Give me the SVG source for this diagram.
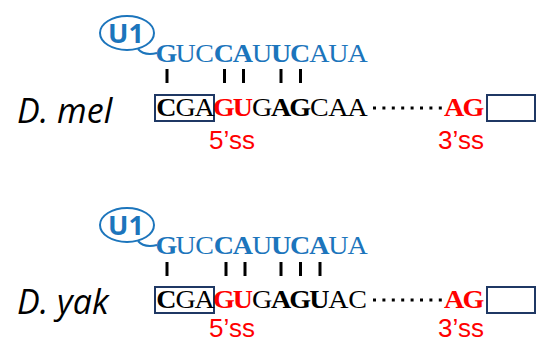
<svg xmlns="http://www.w3.org/2000/svg" width="540" height="343" viewBox="0 0 540 343">
<style>
.seq{font-family:"Liberation Serif","Times New Roman",serif;font-size:25px;text-anchor:middle}
.b{font-weight:bold}
.blue{fill:#1C75BC}
.blk{fill:#000}
.red{fill:#FF0000}
.lab{font-family:"Liberation Sans",Arial,sans-serif;font-size:26px;fill:#FF0000;text-anchor:middle}
.sp{font-family:"Open Sans","Liberation Sans",sans-serif;font-size:34px;font-style:italic;fill:#000}
.u1{font-family:"Open Sans","Liberation Sans",sans-serif;font-size:27px;font-weight:bold;fill:#1C75BC;text-anchor:middle}
.ell{fill:none;stroke:#1C75BC;stroke-width:2}
.box{fill:none;stroke:#1F3864;stroke-width:2}
.bar{stroke:#000;stroke-width:3}
.dots{stroke:#000;stroke-width:3;stroke-dasharray:3 6.4}
</style>
<defs>
<g id="u1shape">
<ellipse class="ell" cx="127" cy="33" rx="27" ry="17"/>
<path class="ell" d="M138,49 Q144,56 157,53"/>
<text class="u1" x="126" y="43">U1</text>
</g>
</defs>

<g id="mel">
<g id="mel-u1"><use href="#u1shape"/></g>
<g id="mel-u1seq">
<text class="seq blue" y="62" transform="scale(1.12 1)"><tspan class="b" x="148.66">G</tspan><tspan x="165.71">U</tspan><tspan x="182.77">C</tspan><tspan class="b" x="199.82">C</tspan><tspan class="b" x="216.88">A</tspan><tspan x="233.93">U</tspan><tspan class="b" x="250.98">U</tspan><tspan class="b" x="268.04">C</tspan><tspan x="285.09">A</tspan><tspan x="302.14">U</tspan><tspan x="319.2">A</tspan></text>
</g>
<g id="mel-label"><text class="sp" x="17" y="123">D. mel</text></g>
<g id="mel-exon1"><rect class="box" x="155" y="95" width="59" height="26"/></g>
<g id="mel-seq">
<text class="seq blk" y="116" transform="scale(1.12 1)"><tspan class="b" x="148.66">C</tspan><tspan x="165.71">G</tspan><tspan x="182.77">A</tspan><tspan class="b red" x="199.82">G</tspan><tspan class="b red" x="216.88">U</tspan><tspan x="233.93">G</tspan><tspan class="b" x="250.98">A</tspan><tspan class="b" x="268.04">G</tspan><tspan x="285.09">C</tspan><tspan x="302.14">A</tspan><tspan x="319.2">A</tspan></text>
</g>
<g id="mel-ag"><text class="seq b red" y="116" transform="scale(1.12 1)"><tspan x="405.36">A</tspan><tspan x="422.77">G</tspan></text></g>
<g id="mel-exon2"><rect class="box" x="487" y="95" width="48" height="26"/></g>
<g id="mel-5ss"><text class="lab" x="232" y="149">5’ss</text></g>
<g id="mel-3ss"><text class="lab" x="461" y="149">3’ss</text></g>
</g>

<g id="yak">
<g id="yak-u1"><use href="#u1shape" y="192"/></g>
<g id="yak-u1seq">
<text class="seq blue" y="254" transform="scale(1.12 1)"><tspan class="b" x="148.66">G</tspan><tspan x="165.71">U</tspan><tspan x="182.77">C</tspan><tspan class="b" x="199.82">C</tspan><tspan class="b" x="216.88">A</tspan><tspan x="233.93">U</tspan><tspan class="b" x="250.98">U</tspan><tspan class="b" x="268.04">C</tspan><tspan class="b" x="285.09">A</tspan><tspan x="302.14">U</tspan><tspan x="319.2">A</tspan></text>
</g>
<g id="yak-label"><text class="sp" x="17" y="314">D. yak</text></g>
<g id="yak-exon1"><rect class="box" x="155" y="287" width="59" height="26"/></g>
<g id="yak-seq">
<text class="seq blk" y="308" transform="scale(1.12 1)"><tspan class="b" x="148.66">C</tspan><tspan x="165.71">G</tspan><tspan x="182.77">A</tspan><tspan class="b red" x="199.82">G</tspan><tspan class="b red" x="216.88">U</tspan><tspan x="233.93">G</tspan><tspan class="b" x="250.98">A</tspan><tspan class="b" x="268.04">G</tspan><tspan class="b" x="285.09">U</tspan><tspan x="302.14">A</tspan><tspan x="319.2">C</tspan></text>
</g>
<g id="yak-ag"><text class="seq b red" y="308" transform="scale(1.12 1)"><tspan x="405.36">A</tspan><tspan x="422.77">G</tspan></text></g>
<g id="yak-exon2"><rect class="box" x="487" y="287" width="48" height="26"/></g>
<g id="yak-5ss"><text class="lab" x="232" y="337">5’ss</text></g>
<g id="yak-3ss"><text class="lab" x="461" y="337">3’ss</text></g>
</g>

<g id="connectors">
<line class="bar" x1="167" y1="69" x2="167" y2="83"/>
<line class="bar" x1="224.5" y1="69" x2="224.5" y2="83"/>
<line class="bar" x1="243.5" y1="69" x2="243.5" y2="83"/>
<line class="bar" x1="281" y1="69" x2="281" y2="83"/>
<line class="bar" x1="300.5" y1="69" x2="300.5" y2="83"/>
<line class="dots" x1="373" y1="108" x2="443" y2="108"/>
<line class="bar" x1="167" y1="262" x2="167" y2="276"/>
<line class="bar" x1="226" y1="262" x2="226" y2="276"/>
<line class="bar" x1="245" y1="262" x2="245" y2="276"/>
<line class="bar" x1="281" y1="262" x2="281" y2="276"/>
<line class="bar" x1="300.5" y1="262" x2="300.5" y2="276"/>
<line class="bar" x1="320" y1="262" x2="320" y2="276"/>
<line class="dots" x1="373" y1="300" x2="443" y2="300"/>
</g>
</svg>
